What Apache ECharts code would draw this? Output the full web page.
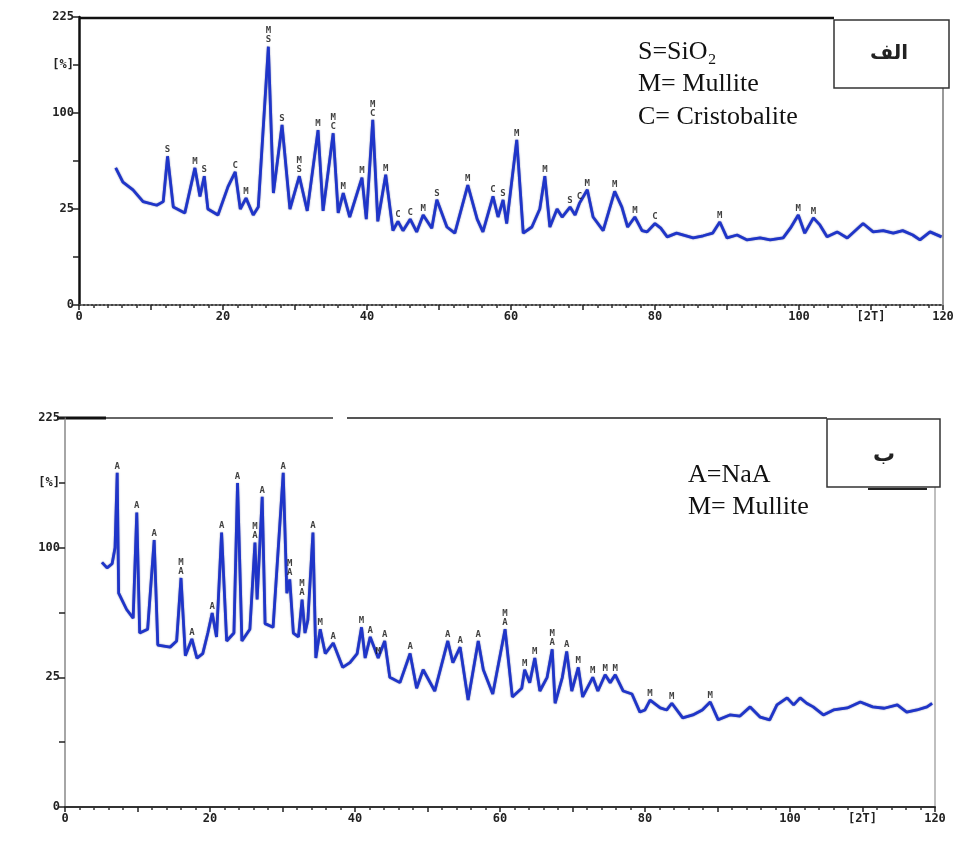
<!DOCTYPE html>
<html lang="fa">
<head>
    <meta charset="UTF-8">
    <title>XRD patterns</title>
    <script src="https://cdn.jsdelivr.net/npm/echarts@6.0.0/dist/echarts.min.js"></script>
    <style>
        html, body { margin: 0; padding: 0; background: #fff; }
        #chart { width: 966px; height: 844px; }
    </style>
</head>
<body>
    <div id="chart"></div>

    <script>
        // panel "الف" : 2theta (deg) and intensity (%)
        const thetaA = [5.1, 6.1, 7.5, 8.9, 10.8, 11.7, 12.3, 13.1, 14.7, 16.1, 16.8, 17.4, 17.9, 19.3, 20.7, 21.7,
            22.4, 23.2, 24.2, 24.9, 26.3, 27.0, 28.2, 29.3, 30.6, 31.7, 33.2, 33.9, 35.3, 36.0, 36.7, 37.6,
            39.3, 39.9, 40.8, 41.5, 42.6, 43.6, 44.3, 45.0, 46.0, 46.9, 47.8, 49.0, 49.7, 51.1, 52.2, 54.0,
            55.3, 56.1, 57.5, 58.2, 58.9, 59.4, 60.8, 61.7, 62.9, 64.0, 64.7, 65.4, 66.4, 67.1, 68.2, 68.9,
            69.5, 70.6, 71.4, 72.8, 74.4, 75.4, 76.2, 77.2, 78.2, 78.9, 80.0, 80.8, 81.7, 83.0, 85.3, 86.7,
            88.0, 89.0, 90.0, 91.4, 92.8, 94.6, 96.0, 97.8, 98.8, 99.9, 100.8, 102.0, 102.9, 103.9, 105.3,
            106.7, 108.9, 110.3, 111.7, 113.1, 114.4, 115.8, 116.8, 118.2, 119.8];
        const intensityA = [51, 41, 36, 29, 27, 29, 60, 26, 23, 51, 32, 45, 25, 22, 38, 48,
            25, 31, 22, 26, 181, 34, 88, 25, 45, 24, 83, 24, 80, 23, 34, 21,
            44, 20, 93, 19, 46, 15, 19, 15, 20, 14.5, 22, 16, 30, 16.5, 14, 39,
            20, 14.5, 32, 21, 30, 18, 74, 14, 16.5, 25, 45, 16.5, 25, 21, 26, 22,
            28, 36, 21, 15, 35, 26, 16.5, 21, 15, 14.5, 18, 16, 12.6, 14, 12.2, 13,
            14, 18.7, 12.2, 13.3, 11.5, 12.2, 11.5, 12.2, 16, 22, 14, 20.6, 17.4, 12.6, 14.5,
            12.2, 18, 14.5, 15, 14, 15, 13.3, 11.5, 14.5, 12.6];

        const peakThetaA = [12.3, 16.1, 17.4, 21.7, 23.2, 26.3, 28.2, 30.6, 33.2, 35.3, 36.7, 39.3, 40.8, 42.6,
            44.3, 46.0, 47.8, 49.7, 54.0, 57.5, 58.9, 60.8, 64.7, 68.2, 69.5, 70.6, 74.4, 77.2, 80.0, 89.0, 99.9, 102.0];
        const peakIntA = [60, 51, 45, 48, 31, 181, 88, 45, 83, 80, 34, 44, 93, 46,
            19, 20, 22, 30, 39, 32, 30, 74, 45, 26, 28, 36, 35, 21, 18, 18.7, 22, 20.6];
        const peakTextA = ['S', 'M', 'S', 'C', 'M', 'M\nS', 'S', 'M\nS', 'M', 'M\nC', 'M', 'M', 'M\nC', 'M',
            'C', 'C', 'M', 'S', 'M', 'C', 'S', 'M', 'M', 'S', 'C', 'M', 'M', 'M', 'C', 'M', 'M', 'M'];

        // panel "ب"
        const thetaB = [5.1, 5.8, 6.5, 6.9, 7.2, 7.4, 8.5, 9.4, 9.9, 10.3, 11.4, 12.3, 12.8, 14.5, 15.4, 16.0,
            16.6, 17.5, 18.2, 19.0, 19.7, 20.3, 20.9, 21.6, 22.3, 23.3, 23.8, 24.4, 25.5, 26.2, 26.5, 27.2,
            27.6, 28.7, 30.1, 30.6, 31.0, 31.5, 32.2, 32.7, 33.1, 33.5, 34.2, 34.6, 35.2, 35.9, 37.0, 38.3,
            39.3, 40.3, 40.9, 41.4, 42.1, 43.2, 44.1, 44.8, 46.2, 47.6, 48.5, 49.4, 51.0, 52.8, 53.5, 54.5,
            55.6, 57.0, 57.7, 59.0, 60.7, 61.7, 63.0, 63.4, 64.1, 64.8, 65.5, 66.5, 67.2, 67.6, 68.6, 69.2,
            69.9, 70.8, 71.4, 72.8, 73.5, 74.5, 75.2, 75.9, 77.0, 78.2, 79.3, 80.0, 80.7, 82.1, 83.0, 83.7,
            85.2, 86.6, 87.9, 89.0, 90.1, 91.7, 93.1, 94.5, 95.9, 97.2, 98.2, 99.6, 100.5, 101.4, 102.3,
            103.2, 104.6, 106.0, 107.9, 109.7, 111.4, 113.0, 114.8, 116.1, 117.5, 118.9, 119.6];
        const intensityB = [89, 85, 88, 100, 166, 68, 58, 53, 129, 45, 47, 106, 39, 38, 41, 78,
            34, 42, 33, 35, 45, 56, 43, 112, 41, 45, 156, 41, 47, 104, 64, 143,
            50, 48, 166, 68, 77, 45, 43, 64, 45, 52, 112, 33, 47, 35, 40, 29,
            31, 35, 48, 33, 43, 33, 41, 25, 23, 35, 21, 28, 20, 41, 31, 38,
            17, 41, 28, 19, 47, 18, 21, 28, 23, 33, 20, 25, 37, 16, 25, 36,
            20, 29, 18, 25, 20, 26, 23, 26, 20, 19, 13.4, 14, 17, 14.6, 14, 16,
            11.8, 12.6, 14, 16.4, 11.3, 12.6, 12.3, 14.9, 12, 11.3, 15.5, 17.7, 15.5, 17.7, 16,
            14.9, 12.6, 14, 14.6, 16.4, 14.9, 14.5, 15.5, 13.4, 14, 14.9, 16];

        const peakThetaB = [7.2, 9.9, 12.3, 16.0, 17.5, 20.3, 21.6, 23.8, 26.2, 27.2, 30.1, 31.0, 32.7, 34.2, 35.2,
            37.0, 40.9, 42.1, 43.2, 44.1, 47.6, 52.8, 54.5, 57.0, 60.7, 63.4, 64.8, 67.2, 69.2, 70.8, 72.8,
            74.5, 75.9, 80.7, 83.7, 89.0];
        const peakIntB = [166, 129, 106, 78, 42, 56, 112, 156, 104, 143, 166, 77, 64, 112, 47,
            40, 48, 43, 33, 41, 35, 41, 38, 41, 47, 28, 33, 37, 36, 29, 25,
            26, 26, 17, 16, 16.4];
        const peakTextB = ['A', 'A', 'A', 'M\nA', 'A', 'A', 'A', 'A', 'M\nA', 'A', 'A', 'M\nA', 'M\nA', 'A', 'M',
            'A', 'M', 'A', 'M', 'A', 'A', 'A', 'A', 'A', 'M\nA', 'M', 'M', 'M\nA', 'A', 'M', 'M',
            'M', 'M', 'M', 'M', 'M'];

        // intensity axis is square-root scaled: 0, 25, 100, 225
        const yTickText = { 0: '0', 5: '25', 10: '100', 12.5: '[%]', 15: '225' };

        const curve = (xs, ys) => xs.map((x, i) => [x, Math.sqrt(ys[i])]);
        const marks = (xs, ys, txt) => xs.map((x, i) => ({ value: [x, Math.sqrt(ys[i])], name: txt[i] }));

        const tickFont = { fontFamily: 'DejaVu Sans Mono', fontWeight: 'bold', fontSize: 12, color: '#222' };

        function xAxisFor(gridIndex, lineStyle) {
            return {
                gridIndex: gridIndex, type: 'value', min: 0, max: 120, interval: 10,
                axisLine: { lineStyle: lineStyle },
                axisTick: { length: 5, lineStyle: { color: '#222', width: 1.5 } },
                minorTick: { show: true, splitNumber: 5, length: 3, lineStyle: { color: '#333', width: 1.5 } },
                splitLine: { show: false },
                axisLabel: Object.assign({
                    margin: 6,
                    formatter: v => (v % 20 === 0 ? String(v) : (v === 110 ? '[2T]' : ''))
                }, tickFont)
            };
        }

        function yAxisFor(gridIndex, lineStyle) {
            return {
                gridIndex: gridIndex, type: 'value', min: 0, max: 15, interval: 2.5,
                axisLine: { show: true, lineStyle: lineStyle },
                axisTick: { show: true, length: 6, lineStyle: { color: '#222', width: 1.5 } },
                splitLine: { show: false },
                axisLabel: Object.assign({
                    margin: 5,
                    formatter: v => (yTickText[v] !== undefined ? yTickText[v] : '')
                }, tickFont)
            };
        }

        const lineStyle = { color: '#1f35c9', width: 2.8, shadowColor: 'rgba(10,20,110,0.6)', shadowBlur: 1.5 };
        const markLabel = {
            show: true, position: 'top', distance: 2, formatter: '{b}',
            fontFamily: 'DejaVu Sans Mono', fontWeight: 'bold', fontSize: 9, lineHeight: 9, color: '#111'
        };

        const chart = echarts.init(document.getElementById('chart'));
        chart.setOption({
            animation: false,
            backgroundColor: '#fff',
            grid: [
                { left: 79, right: 23, top: 17, bottom: 539 },
                { left: 65, right: 31, top: 418, bottom: 37 }
            ],
            xAxis: [
                xAxisFor(0, { color: '#444', width: 2, type: 'dotted' }),
                xAxisFor(1, { color: '#333', width: 2 })
            ],
            yAxis: [
                yAxisFor(0, { color: '#111', width: 2.5 }),
                yAxisFor(1, { color: '#888', width: 1.5 })
            ],
            series: [
                { type: 'line', xAxisIndex: 0, yAxisIndex: 0, data: curve(thetaA, intensityA),
                  symbol: 'none', lineStyle: lineStyle },
                { type: 'line', xAxisIndex: 1, yAxisIndex: 1, data: curve(thetaB, intensityB),
                  symbol: 'none', lineStyle: lineStyle },
                { type: 'scatter', xAxisIndex: 0, yAxisIndex: 0, data: marks(peakThetaA, peakIntA, peakTextA),
                  symbolSize: 0.1, itemStyle: { color: 'rgba(0,0,0,0)' }, label: markLabel, z: 5 },
                { type: 'scatter', xAxisIndex: 1, yAxisIndex: 1, data: marks(peakThetaB, peakIntB, peakTextB),
                  symbolSize: 0.1, itemStyle: { color: 'rgba(0,0,0,0)' }, label: markLabel, z: 5 }
            ],
            graphic: [
                // top panel frame
                { type: 'line', shape: { x1: 79, y1: 18, x2: 834, y2: 18 }, style: { stroke: '#111', lineWidth: 2.5 } },
                { type: 'line', shape: { x1: 943, y1: 88, x2: 943, y2: 305 }, style: { stroke: '#777', lineWidth: 1.5 } },
                { type: 'rect', shape: { x: 834, y: 20, width: 115, height: 68 },
                  style: { fill: '#fff', stroke: '#333', lineWidth: 1.5 }, z: 10 },
                { type: 'text', x: 889, y: 54, z: 11,
                  style: { text: 'الف', font: 'bold 20px "DejaVu Sans"', fill: '#222', align: 'center', verticalAlign: 'middle' } },
                { type: 'text', x: 638, y: 52, z: 11,
                  style: { text: 'S=SiO₂', font: '26px "Liberation Serif"', fill: '#111', verticalAlign: 'middle' } },
                { type: 'text', x: 638, y: 84, z: 11,
                  style: { text: 'M= Mullite', font: '26px "Liberation Serif"', fill: '#111', verticalAlign: 'middle' } },
                { type: 'text', x: 638, y: 117, z: 11,
                  style: { text: 'C= Cristobalite', font: '26px "Liberation Serif"', fill: '#111', verticalAlign: 'middle' } },

                // bottom panel frame
                { type: 'line', shape: { x1: 57, y1: 418, x2: 106, y2: 418 }, style: { stroke: '#111', lineWidth: 3 } },
                { type: 'line', shape: { x1: 106, y1: 418, x2: 333, y2: 418 }, style: { stroke: '#666', lineWidth: 2 } },
                { type: 'line', shape: { x1: 347, y1: 418, x2: 827, y2: 418 }, style: { stroke: '#555', lineWidth: 2 } },
                { type: 'line', shape: { x1: 935, y1: 487, x2: 935, y2: 807 }, style: { stroke: '#aaa', lineWidth: 1.5 } },
                { type: 'rect', shape: { x: 827, y: 419, width: 113, height: 68 },
                  style: { fill: '#fff', stroke: '#333', lineWidth: 1.5 }, z: 10 },
                { type: 'line', shape: { x1: 868, y1: 489, x2: 927, y2: 489 }, style: { stroke: '#222', lineWidth: 2 }, z: 10 },
                { type: 'text', x: 884, y: 455, z: 11,
                  style: { text: 'ب', font: 'bold 22px "DejaVu Sans"', fill: '#222', align: 'center', verticalAlign: 'middle' } },
                { type: 'text', x: 688, y: 475, z: 11,
                  style: { text: 'A=NaA', font: '26px "Liberation Serif"', fill: '#111', verticalAlign: 'middle' } },
                { type: 'text', x: 688, y: 507, z: 11,
                  style: { text: 'M= Mullite', font: '26px "Liberation Serif"', fill: '#111', verticalAlign: 'middle' } }
            ]
        });
    </script>
</body>
</html>
